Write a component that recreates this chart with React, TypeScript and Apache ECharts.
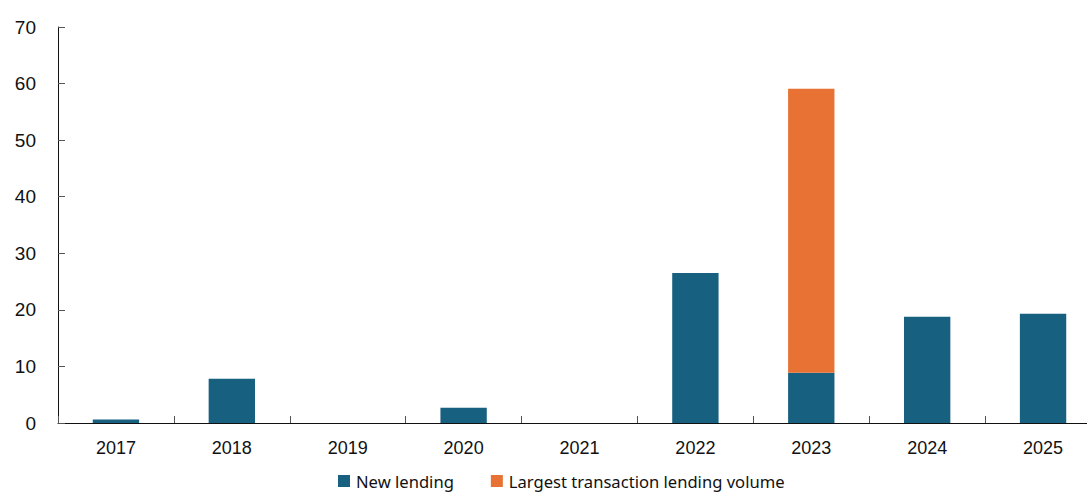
import React, { useEffect, useRef } from "react";
import * as echarts from "echarts";

const categories = ["2017", "2018", "2019", "2020", "2021", "2022", "2023", "2024", "2025"];
const newLending = [0.6, 7.8, 0, 2.7, 0, 26.5, 8.9, 18.8, 19.3];
const largestTransaction = [null, null, null, null, null, null, 50.2, null, null];
const seriesNames = ["New lending", "Largest transaction lending volume"];

export default function App() {
  const ref = useRef<HTMLDivElement>(null);
  useEffect(() => {
    if (!ref.current) return;
    const chart = echarts.init(ref.current, null, { renderer: "svg" });
    chart.setOption({
      animation: false,
      grid: { left: 58, top: 27, bottom: 71, right: 0, containLabel: false },
      legend: {
        left: 333,
        top: 467,
        itemWidth: 12,
        itemHeight: 12,
        itemGap: 37,
        icon: "rect",
        textStyle: { fontFamily: "Noto Sans", fontSize: 16.6, color: "#111", lineHeight: 18, padding: [0, 0, 0, 1] },
        data: seriesNames,
      },
      xAxis: {
        type: "category",
        data: categories,
        boundaryGap: true,
        axisLine: { lineStyle: { color: "#111", width: 1 } },
        axisTick: { show: true, inside: true, length: 7, alignWithLabel: false, lineStyle: { color: "#555" } },
        axisLabel: { fontFamily: "Liberation Sans", fontSize: 18, color: "#111", margin: 16 },
        splitLine: { show: false },
      },
      yAxis: {
        type: "value",
        min: 0,
        max: 70,
        interval: 10,
        axisLine: { show: true, lineStyle: { color: "#111", width: 1 } },
        axisTick: { show: true, inside: true, length: 7, lineStyle: { color: "#555" } },
        axisLabel: { fontFamily: "Liberation Sans", fontSize: 19, color: "#111", margin: 22 },
        splitLine: { show: false },
      },
      series: [
        {
          name: seriesNames[0],
          type: "bar",
          stack: "total",
          barWidth: "40%",
          data: newLending,
          itemStyle: { color: "#17607F" },
        },
        {
          name: seriesNames[1],
          type: "bar",
          stack: "total",
          barWidth: "40%",
          data: largestTransaction,
          itemStyle: { color: "#E87233" },
        },
      ],
    });
    return () => chart.dispose();
  }, []);
  return (
    <div style={{ position: "absolute", left: 0, top: 0, width: 1087, height: 494, overflow: "hidden", background: "#fff" }}>
      <div ref={ref} style={{ width: 1101, height: 494 }} />
    </div>
  );
}
